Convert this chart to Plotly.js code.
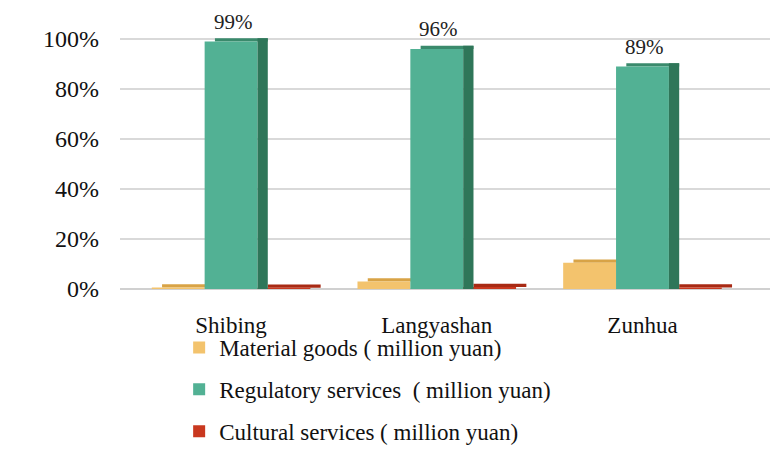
<!DOCTYPE html>
<html>
<head>
<meta charset="utf-8">
<script src="https://cdn.plot.ly/plotly-3.0.1.min.js"></script>
<style>html,body{margin:0;padding:0;background:#fff;}#chart{width:773px;height:449px;}</style>
</head>
<body>
<div id="chart"></div>
<script>
const categories = ["Shibing", "Langyashan", "Zunhua"];
const materialGoods = [0.6, 3, 10.5];
const regulatoryServices = [99, 96, 89];
const culturalServices = [0.5, 0.8, 0.6];
const regulatoryLabels = ["99%", "96%", "89%"];
const seriesNames = [
  "Material goods ( million yuan)",
  "Regulatory services  ( million yuan)",
  "Cultural services ( million yuan)"
];

const W = 0.257;      // bar width (category units)
const SIDE = 0.05;    // depth face width (category units)
const TOP = 1.3;      // top face thickness (y units, styling only)
const serif = "'Times New Roman', 'Liberation Serif', 'DejaVu Serif', serif";

function topFace(values, off, color, group) {
  return {
    type: "bar", x: categories, base: values, y: values.map(() => TOP),
    width: W, offset: off + SIDE, marker: {color: color},
    showlegend: false, legendgroup: group, hoverinfo: "skip"
  };
}
function sideFace(values, off, color, group) {
  return {
    type: "bar", x: categories, y: values,
    width: SIDE, offset: off + W, marker: {color: color},
    showlegend: false, legendgroup: group, hoverinfo: "skip"
  };
}

const offM = -1.5 * W, offR = -0.5 * W, offC = 0.5 * W;

const traces = [
  topFace(materialGoods, offM, "#d8a346", "a"),
  {
    type: "bar", name: seriesNames[0], x: categories, y: materialGoods,
    width: W, offset: offM, marker: {color: "#f3c36d"},
    legendrank: 1, legendgroup: "a", hoverinfo: "skip"
  },
  topFace(culturalServices, offC, "#a82a14", "c"),
  {
    type: "bar", name: seriesNames[2], x: categories, y: culturalServices,
    width: W, offset: offC, marker: {color: "#c9381f"},
    legendrank: 3, legendgroup: "c", hoverinfo: "skip"
  },
  topFace(regulatoryServices, offR, "#3a8a6c", "b"),
  {
    type: "bar", name: seriesNames[1], x: categories, y: regulatoryServices,
    width: W, offset: offR, marker: {color: "#52b194"},
    legendrank: 2, legendgroup: "b", hoverinfo: "skip"
  },
  sideFace(regulatoryServices.map((v) => v + TOP), offR, "#2f7659", "b")
];

const annotations = categories.map((c, i) => ({
  x: c, y: regulatoryServices[i], xref: "x", yref: "y",
  text: regulatoryLabels[i], showarrow: false,
  yanchor: "middle", yshift: 20, xshift: 2,
  font: {family: serif, size: 21, color: "#222"}
}));

const layout = {
  width: 773, height: 449,
  margin: {l: 120, r: 3, t: 27, b: 160, autoexpand: false},
  paper_bgcolor: "#fff", plot_bgcolor: "#fff",
  barmode: "overlay",
  font: {family: serif, color: "#111"},
  showlegend: true,
  annotations: annotations,
  legend: {
    x: 0.091, y: -0.141, xanchor: "left", yanchor: "top",
    orientation: "v", traceorder: "grouped",
    font: {family: serif, size: 23, color: "#111"},
    itemwidth: 30, tracegroupgap: 9,
    bgcolor: "rgba(0,0,0,0)"
  },
  xaxis: {
    type: "category", range: [-0.54, 2.62],
    showgrid: false, zeroline: false, showline: false, ticks: "",
    tickfont: {family: serif, size: 23, color: "#111"},
    ticklabelstandoff: 20
  },
  yaxis: {
    range: [0, 104.8], tickvals: [0, 20, 40, 60, 80, 100],
    ticktext: ["0%", "20%", "40%", "60%", "80%", "100%"],
    showgrid: true, gridcolor: "#d9d9d9", gridwidth: 1.3,
    zeroline: true, zerolinecolor: "#d0d0d0", zerolinewidth: 1.3,
    showline: false, ticks: "",
    tickfont: {family: serif, size: 24, color: "#111"},
    ticklabelstandoff: 20
  }
};

Plotly.newPlot("chart", traces, layout, {displayModeBar: false, staticPlot: true});
</script>
</body>
</html>
